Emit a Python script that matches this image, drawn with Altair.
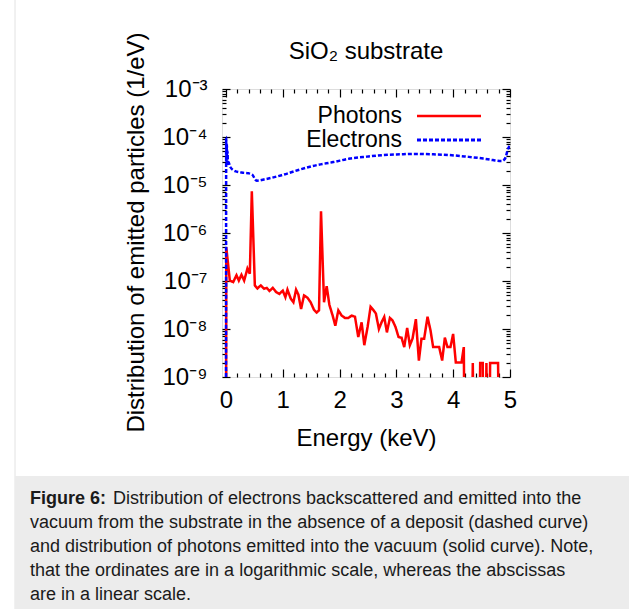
import altair as alt
import pandas as pd

FONT = "Liberation Sans"

SERIES = ["Photons", "Electrons"]
COLORS = ["#ff0000", "#0000ff"]
DASHES = [[1, 0], [4, 2]]

PHOTON_E = [0.0, 0.005, 0.068, 0.127, 0.185, 0.226, 0.273, 0.320, 0.378, 0.420,
            0.455, 0.508, 0.554, 0.613, 0.671, 0.718, 0.765, 0.824, 0.882, 0.941,
            1.000, 1.046, 1.082, 1.140, 1.187, 1.234, 1.275, 1.322, 1.374, 1.433,
            1.491, 1.550, 1.597, 1.638, 1.673, 1.726, 1.773, 1.820, 1.878, 1.925,
            1.978, 2.037, 2.095, 2.153, 2.212, 2.271, 2.329, 2.388, 2.435, 2.493,
            2.546, 2.593, 2.639, 2.692, 2.739, 2.786, 2.833, 2.886, 2.933, 2.985,
            3.038, 3.091, 3.138, 3.190, 3.237, 3.284, 3.343, 3.396, 3.442, 3.489,
            3.548, 3.601, 3.647, 3.706, 3.753, 3.806, 3.853, 3.899, 3.952, 3.999,
            4.046, 4.099, 4.146, 4.187, 4.215, 4.26, 4.30, 4.345, 4.39, 4.435,
            4.475, 4.52, 4.55, 4.585, 4.62, 4.65, 4.72, 4.79, 4.83, 4.88, 4.93, 4.98]
PHOTON_V = [1e-13, 5.1e-7, 1.02e-7, 9.5e-8, 1.32e-7, 1.02e-7, 1.35e-7, 1.02e-7, 1.82e-7, 1.41e-7,
            7.4e-6, 8.1e-8, 7.0e-8, 8.1e-8, 6.9e-8, 7.2e-8, 6.2e-8, 7.2e-8, 5.9e-8, 5.4e-8,
            6.3e-8, 4.6e-8, 6.6e-8, 4.3e-8, 3.6e-8, 6.6e-8, 5.2e-8, 2.6e-8, 5.0e-8, 4.5e-8,
            3.6e-8, 2.5e-8, 2.2e-8, 2.45e-8, 2.84e-6, 3.6e-8, 7.8e-8, 3.2e-8, 1.9e-8, 1.17e-8,
            2.45e-8, 1.9e-8, 1.7e-8, 1.7e-8, 1.9e-8, 1.8e-8, 6.8e-9, 1.38e-8, 4.6e-9, 1.1e-8,
            2.9e-8, 2.5e-8, 2.1e-8, 1.0e-8, 1.38e-8, 1.78e-8, 8.5e-9, 1.7e-8, 1.5e-8, 1.1e-8,
            6.8e-9, 6.6e-9, 4.2e-9, 1.05e-8, 4.6e-9, 6.3e-9, 1.6e-8, 2.2e-9, 6.3e-9, 6.3e-9,
            1.8e-8, 9.3e-9, 4.2e-9, 4.2e-9, 4.2e-9, 2.2e-9, 6.6e-9, 4.2e-9, 4.2e-9, 7.9e-9,
            2.0e-9, 2.0e-9, 2.0e-9, 4.2e-9, 1e-13, 1e-13, 1e-13, 1.95e-9, 1e-13, 1e-13,
            1.95e-9, 1.95e-9, 1e-13, 1.95e-9, 1e-13, 1.95e-9, 1.95e-9, 1.95e-9, 1e-13, 1e-13, 1e-13, 1e-13]

ELECTRON_E = [0.0, 0.004, 0.010, 0.016, 0.022, 0.028, 0.034, 0.045, 0.074, 0.16,
              0.30, 0.40, 0.46, 0.54, 0.69, 0.98, 1.30, 1.60, 1.89, 2.18,
              2.48, 2.77, 3.06, 3.35, 3.65, 3.94, 4.23, 4.53, 4.70, 4.85,
              4.91, 4.97, 4.995]
ELECTRON_V = [1e-13, 1.0e-4, 3.0e-5, 7.0e-5, 3.2e-5, 5.0e-5, 2.6e-5, 3.0e-5, 2.4e-5, 1.95e-5,
              1.8e-5, 1.75e-5, 1.65e-5, 1.23e-5, 1.32e-5, 1.6e-5, 2.1e-5, 2.6e-5, 3.0e-5, 3.55e-5,
              3.9e-5, 4.2e-5, 4.35e-5, 4.45e-5, 4.35e-5, 4.2e-5, 3.9e-5, 3.55e-5, 3.3e-5, 3.15e-5,
              3.5e-5, 5.8e-5, 6.5e-5]

X_MAJOR = [0, 1, 2, 3, 4, 5]
X_MINOR = [0.2, 0.4, 0.6, 0.8, 1.2, 1.4, 1.6, 1.8, 2.2, 2.4, 2.6, 2.8,
           3.2, 3.4, 3.6, 3.8, 4.2, 4.4, 4.6, 4.8]
Y_MAJOR = [1e-9, 1e-8, 1e-7, 1e-6, 1e-5, 1e-4, 1e-3]
Y_LABELS = ["10⁻⁹", "10⁻⁸", "10⁻⁷", "10⁻⁶", "10⁻⁵", "10⁻⁴", "10⁻³"]
Y_MINOR = [m * d for d in Y_MAJOR[:-1] for m in range(2, 10)]

TITLE = "SiO₂ substrate"
X_TITLE = "Energy (keV)"
Y_TITLE = "Distribution of emitted particles (1/eV)"
CAPTION_BOLD = "Figure 6:"
CAPTION_LINE1 = "Distribution of electrons backscattered and emitted into the"
CAPTION_REST = ("vacuum from the substrate in the absence of a deposit (dashed curve)\n"
                "and distribution of photons emitted into the vacuum (solid curve). Note,\n"
                "that the ordinates are in a logarithmic scale, whereas the abscissas\n"
                "are in a linear scale.")

photons = pd.DataFrame({"E": PHOTON_E, "V": PHOTON_V, "series": "Photons"})
electrons = pd.DataFrame({"E": ELECTRON_E, "V": ELECTRON_V, "series": "Electrons"})

XS = alt.Scale(domain=[-0.07, 5], nice=False, zero=False)
YS = alt.Scale(type="log", domain=[1e-9, 1e-3], nice=False)

label_expr = ""
for v, lab in zip(Y_MAJOR[:-1], Y_LABELS[:-1]):
    label_expr += f"datum.value < {v * 3} ? '{lab}' : "
label_expr += f"'{Y_LABELS[-1]}'"


def ax(orient, values, size, **kw):
    base = dict(orient=orient, values=values, offset=-size, tickSize=size, tickWidth=1.2,
                tickColor="black", domain=False, grid=False, labels=False, title=None)
    base.update(kw)
    return alt.Axis(**base)


COLOR = alt.Color("series:N", scale=alt.Scale(domain=SERIES, range=COLORS), legend=None)
DASH = alt.StrokeDash("series:N", scale=alt.Scale(domain=SERIES, range=DASHES), legend=None)

x_bottom = ax("bottom", X_MAJOR, 8, labels=True, labelFontSize=24, labelFont=FONT,
              labelColor="black", labelPadding=11, labelFlush=False, labelOverlap=False,
              format="d", title=X_TITLE, titleFontSize=24, titleFont=FONT,
              titleFontWeight="normal", titleColor="black", titleBaseline="alphabetic",
              titleY=76, titleX=144)
y_left = ax("left", Y_MAJOR, 8, labels=True, labelFontSize=24, labelFont=FONT,
            labelColor="black", labelPadding=15, labelFlush=False, labelOverlap=False,
            labelExpr=label_expr, title=Y_TITLE, titleFontSize=24, titleFont=FONT,
            titleFontWeight="normal", titleColor="black", titleBaseline="alphabetic",
            titleAngle=270, titleAlign="center", titleX=-87, titleY=143)

photon_line = alt.Chart(photons).mark_line(strokeWidth=2.5, clip=True).encode(
    x=alt.X("E:Q", scale=XS, axis=x_bottom),
    y=alt.Y("V:Q", scale=YS, axis=y_left),
    color=COLOR, strokeDash=DASH)

electron_line = alt.Chart(electrons).mark_line(strokeWidth=2.5, clip=True,
                                               interpolate="monotone").encode(
    x=alt.X("E:Q", scale=XS, axis=ax("bottom", X_MINOR, 4)),
    y=alt.Y("V:Q", scale=YS, axis=ax("left", Y_MINOR, 4)),
    color=COLOR, strokeDash=DASH)

mirror_major = alt.Chart(photons).mark_line(opacity=0, clip=True).encode(
    x=alt.X("E:Q", scale=XS, axis=ax("top", X_MAJOR, 8)),
    y=alt.Y("V:Q", scale=YS, axis=ax("right", Y_MAJOR, 8)))

mirror_minor = alt.Chart(electrons).mark_line(opacity=0, clip=True).encode(
    x=alt.X("E:Q", scale=XS, axis=ax("top", X_MINOR, 4)),
    y=alt.Y("V:Q", scale=YS, axis=ax("right", Y_MINOR, 4)))

# key (legend) inside the plot, top right: label, then line sample
key_layers = []
for i, (name, col, dash) in enumerate(zip(SERIES, COLORS, DASHES)):
    ky = 27 + 24 * i
    kd = pd.DataFrame({"t": [name]})
    key_layers.append(alt.Chart(kd).mark_text(
        align="right", baseline="middle", fontSize=23, font=FONT, color="black").encode(
        x=alt.value(180), y=alt.value(ky), text="t:N"))
    key_layers.append(alt.Chart(kd).mark_rule(
        color=col, strokeWidth=3 if i else 2.5, strokeDash=dash).encode(
        x=alt.value(195), x2=alt.value(259), y=alt.value(ky)))

title_text = alt.Chart(pd.DataFrame({"t": [TITLE]})).mark_text(
    align="center", baseline="alphabetic", fontSize=24, font=FONT, color="black").encode(
    x=alt.value(144), y=alt.value(-30), text="t:N")

frame_line = alt.Chart(pd.DataFrame({"k": [0]})).mark_rule(color="#e2e2e2", strokeWidth=1).encode(
    x=alt.value(-207), y=alt.value(-89), y2=alt.value(520))

cap_box = alt.Chart(pd.DataFrame({"k": [0]})).mark_rect(color="#ececec").encode(
    x=alt.value(-207), x2=alt.value(407), y=alt.value(387), y2=alt.value(520))

cap_bold = alt.Chart(pd.DataFrame({"t": [CAPTION_BOLD]})).mark_text(
    align="left", baseline="alphabetic", fontSize=18, font=FONT, fontWeight="bold",
    color="#1a1a1a").encode(x=alt.value(-192), y=alt.value(415), text="t:N")

cap_first = alt.Chart(pd.DataFrame({"t": [CAPTION_LINE1]})).mark_text(
    align="left", baseline="alphabetic", fontSize=18, font=FONT,
    color="#1a1a1a").encode(x=alt.value(-109), y=alt.value(415), text="t:N")

cap_rest = alt.Chart(pd.DataFrame({"t": [CAPTION_REST]})).mark_text(
    align="left", baseline="alphabetic", fontSize=18, font=FONT, lineBreak="\n",
    lineHeight=24, color="#1a1a1a").encode(x=alt.value(-192), y=alt.value(439), text="t:N")

chart = alt.layer(
    frame_line, cap_box, cap_bold, cap_first, cap_rest, title_text,
    photon_line, electron_line, mirror_major, mirror_minor, *key_layers
).resolve_axis(x="independent", y="independent").properties(
    width=288, height=288,
    autosize=alt.AutoSizeParams(type="none"),
    padding={"left": 222, "top": 89, "right": 119, "bottom": 232},
).configure_view(stroke="black", strokeWidth=2, fill="white").configure(background="white")

chart.save("out.html", embed_options={"renderer": "svg", "actions": False})
